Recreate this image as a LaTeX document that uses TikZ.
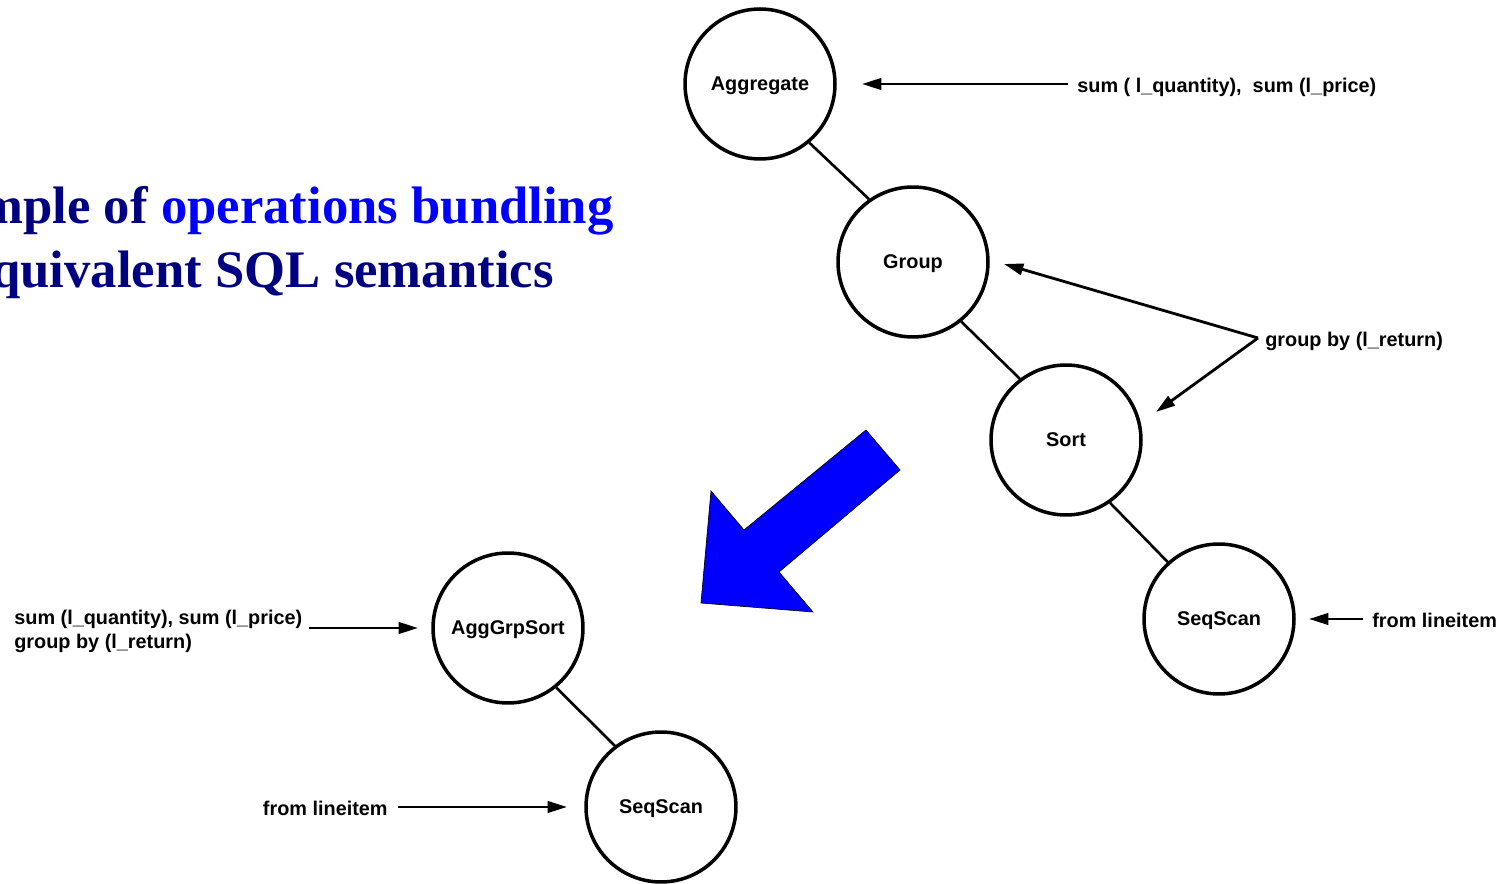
\documentclass[tikz,border=0pt]{standalone}
\usepackage{fontspec}
\setmainfont{Liberation Sans}
\newfontfamily\titlefont{Liberation Serif}
\usetikzlibrary{arrows.meta, positioning}
\definecolor{navy}{RGB}{0, 0, 128}
\definecolor{bundleblue}{RGB}{0, 0, 255}

\begin{document}
\begin{tikzpicture}[x=0.02cm, y=-0.02cm]
    \tikzstyle{op} = [circle, draw, line width=2pt, minimum size=3.0cm, inner sep=0pt, text depth=0pt, font=\fontsize{11.3}{13}\selectfont\bfseries]
    \tikzstyle{lbl} = [font=\fontsize{11.3}{13.5}\selectfont\bfseries, inner sep=0pt, text depth=0pt]
    \tikzstyle{edge} = [line width=1.5pt]
    \tikzstyle{arrow} = [line width=1.6pt, -{Triangle[length=11pt,width=6.5pt]}]
    \useasboundingbox (0,0) rectangle (1512,884);
    \clip (0,0) rectangle (1512,884);

    % title
    \node[anchor=base east, inner sep=0pt, font=\titlefont\fontsize{30}{34}\selectfont\bfseries, text=navy] (t1) at (614,224) {ample of \textcolor{bundleblue}{operations bundling}};
    \node[anchor=base east, inner sep=0pt, font=\titlefont\fontsize{30}{34}\selectfont\bfseries, text=navy] (t2) at (554,288) {equivalent SQL semantics};

    % original plan
    \node[op] (agg) at (760,84) {Aggregate};
    \node[op] (grp) at (913,262) {Group};
    \node[op] (srt) at (1066,440) {Sort};
    \node[op] (scan) at (1219,619) {SeqScan};
    \draw[edge] (agg.-50) -- (grp.125);
    \draw[edge] (grp.-51) -- (srt.127);
    \draw[edge] (srt.-55) -- (scan.132);

    \node[lbl, anchor=west] (sumlbl) at (1077,85) {sum ( l\_quantity),\ \ sum (l\_price)};
    \coordinate (s0) at (1068,84);
    \coordinate (s1) at (862,84);
    \draw[arrow] (s0) -- (s1);
    \node[lbl, anchor=west] (grplbl) at (1265,339) {group by (l\_return)};
    \coordinate (g0) at (1258,338);
    \coordinate (g1) at (1004,264);
    \coordinate (g2) at (1156,412);
    \draw[arrow] (g0) -- (g1);
    \draw[arrow] (g0) -- (g2);
    \node[lbl, anchor=west] (fromlbl) at (1372,620) {from lineitem};
    \coordinate (f0) at (1363,619);
    \coordinate (f1) at (1309,619);
    \draw[arrow] (f0) -- (f1);

    % big arrow
    \filldraw[fill=bundleblue, draw=black, line width=0.4pt]
        (866,430) -- (900,470) -- (779,572) -- (813,612) -- (701,603) -- (711,491) -- (744,530) -- cycle;

    % bundled plan
    \node[op] (ags) at (508,628) {AggGrpSort};
    \node[op] (scan2) at (661,807) {SeqScan};
    \draw[edge] (ags.-51) -- (scan2.127);

    \node[lbl, anchor=west, align=left] (bundlelbl) at (14,629) {sum (l\_quantity), sum (l\_price)\\group by (l\_return)};
    \coordinate (b0) at (309,628);
    \coordinate (b1) at (418,628);
    \draw[arrow] (b0) -- (b1);
    \node[lbl, anchor=east] (from2lbl) at (388,808) {from lineitem};
    \coordinate (c0) at (398,807);
    \coordinate (c1) at (567,807);
    \draw[arrow] (c0) -- (c1);
\end{tikzpicture}
\end{document}
